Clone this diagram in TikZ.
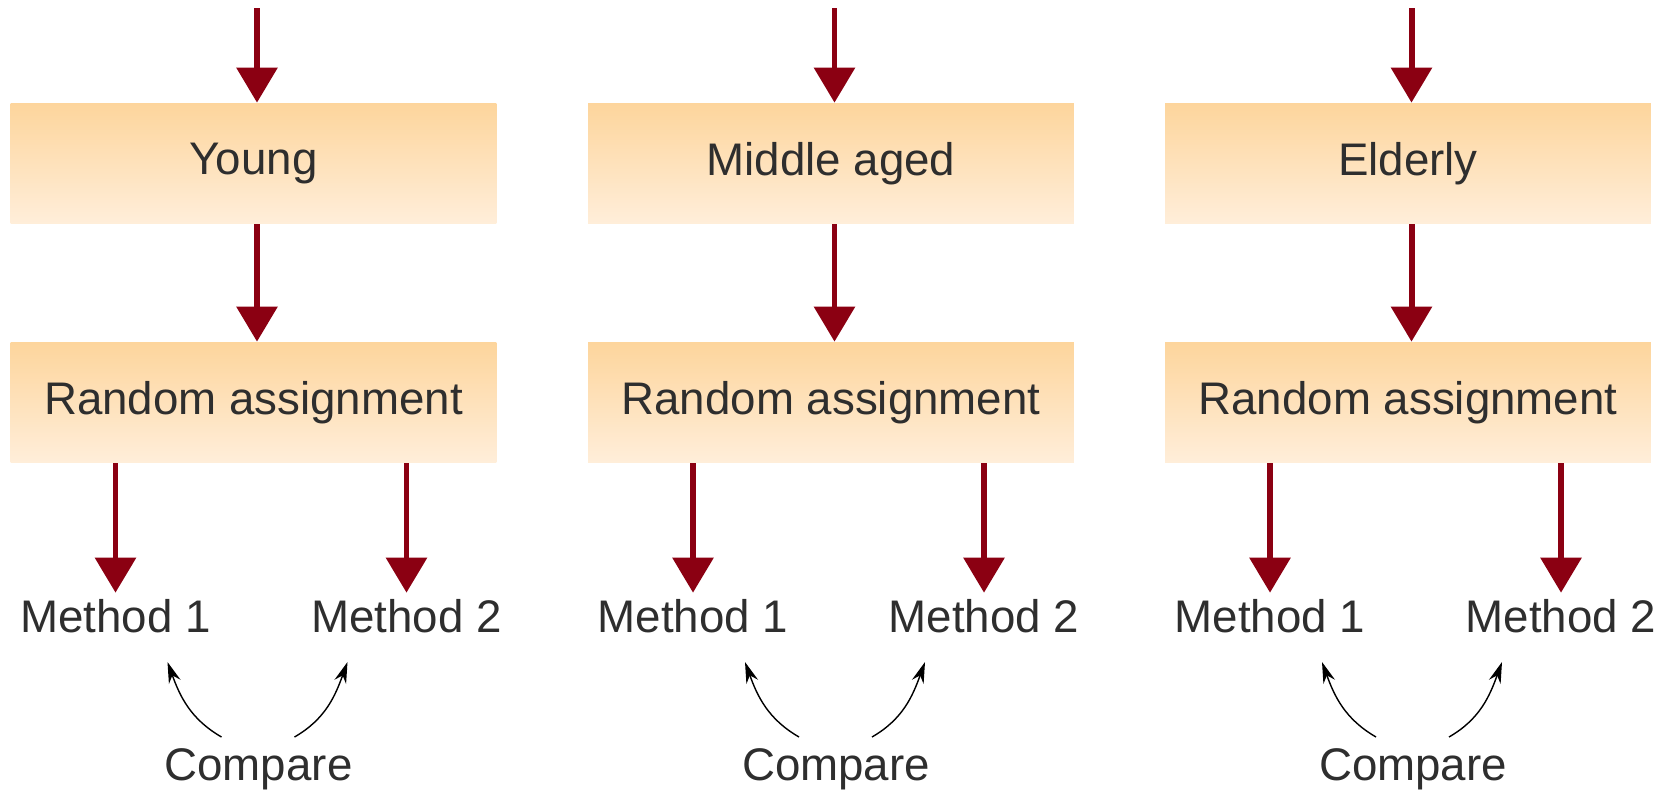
\documentclass[tikz,border=0pt]{standalone}
\usepackage{fontspec}
\setmainfont{Liberation Sans}
\usetikzlibrary{arrows.meta,positioning}
\definecolor{arrowred}{RGB}{139,0,18}
\definecolor{boxtop}{RGB}{253,213,156}
\definecolor{boxbottom}{RGB}{255,238,218}

\begin{document}
\begin{tikzpicture}[x=0.02cm,y=0.02cm]
	\path [use as bounding box] (0,0) rectangle (1674,-792);
	\tikzstyle{txt} = [text=black!82, font=\fontsize{26}{30}\selectfont]
	\tikzstyle{box} = [txt, minimum width=9.72cm, minimum height=2.42cm, inner sep=0pt, top color=boxtop, bottom color=boxbottom]
	\tikzstyle{arr} = [arrowred, line width=3.4pt, -{Triangle[width=0.8cm,length=0.7cm]}]
	\tikzstyle{cmparr} = [black, line width=0.8pt, -{Stealth[length=12pt,width=7pt]}]
	\foreach \i/\x/\name in {1/253.5/Young, 2/831/Middle aged, 3/1408/Elderly} {
		\coordinate (top\i) at (\x+3.5,-8);
		\node[box] (grp\i) at (\x,-163.5) {\name};
		\node[box] (rnd\i) at (\x,-402.5) {Random assignment};
		\node[txt, anchor=base] (mA\i) at (\x-138,-632) {Method 1};
		\node[txt, anchor=base] (mB\i) at (\x+153,-632) {Method 2};
		\node[txt, anchor=base] (cmp\i) at (\x+5,-780) {Compare};
		% ends of the compare arrows
		\coordinate (cl\i) at (\x-32,-737);
		\coordinate (cr\i) at (\x+41,-737);
		\coordinate (pl\i) at (\x-86,-662);
		\coordinate (pr\i) at (\x+94,-662);
		\draw[arr] (top\i) -- (grp\i.north -| top\i);
		\draw[arr] (grp\i.south -| top\i) -- (rnd\i.north -| top\i);
		\draw[arr] (rnd\i.south -| mA\i) -- (mA\i.north);
		\draw[arr] (rnd\i.south -| mB\i) -- (mB\i.north);
		\draw[cmparr] (cl\i) to[out=150,in=-70] (pl\i);
		\draw[cmparr] (cr\i) to[out=30,in=-110] (pr\i);
	}
\end{tikzpicture}
\end{document}
